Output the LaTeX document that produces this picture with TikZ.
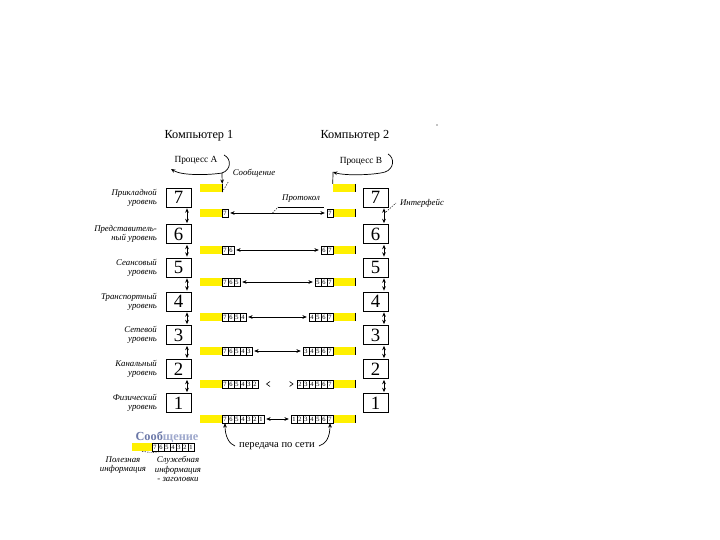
\documentclass[tikz,border=0pt]{standalone}
\usepackage{fontspec}
\setmainfont{Liberation Serif}
\usetikzlibrary{arrows.meta}

\definecolor{msgyellow}{rgb}{1,0.94,0}
\definecolor{darkblue}{rgb}{0.42,0.47,0.66}
\definecolor{lightblue}{rgb}{0.62,0.66,0.80}

\tikzset{
  levelbox/.style={draw,line width=0.6pt,minimum width=0.75cm,minimum height=0.57cm,inner sep=0pt,font=\fontsize{16}{16}\selectfont},
  hdr/.style={draw,line width=0.4pt,minimum width=0.18cm,minimum height=0.24cm,inner sep=0pt,font=\fontsize{5.5}{5.5}\selectfont},
  data/.style={fill=msgyellow,minimum width=0.66cm,minimum height=0.24cm,inner sep=0pt},
  lbl/.style={anchor=east,align=right,font=\fontsize{7.5}{7.8}\selectfont\itshape},
  note/.style={align=center,font=\fontsize{7.5}{7.8}\selectfont\itshape},
  tip/.style={-{Stealth[length=1.3mm,width=1.1mm]},line width=0.6pt},
  link/.style={{Stealth[length=1.3mm,width=1.1mm]}-{Stealth[length=1.3mm,width=1.1mm]},line width=0.6pt,shorten <=0.06cm,shorten >=0.06cm},
  leader/.style={line width=0.4pt,dash pattern=on 1.2pt off 1pt},
}

\begin{document}
\begin{tikzpicture}[x=0.03cm,y=-0.03cm]
\useasboundingbox (0,0) rectangle (720,540);

\node[font=\fontsize{10.5}{12}\selectfont] (comp1) at (199,136) {Компьютер 1};
\node[font=\fontsize{10.5}{12}\selectfont] (comp2) at (355,136) {Компьютер 2};
\fill (437,125) circle (0.5pt);

\node[font=\fontsize{8}{9}\selectfont] (procA) at (196,160) {Процесс А};
\node[font=\fontsize{8}{9}\selectfont] (procB) at (361,161) {Процесс В};

\foreach \n/\y/\txt in {7/197.5/{Прикладной\\уровень},6/234/{Представитель-\\ный уровень},
    5/267.5/{Сеансовый\\уровень},4/301.5/{Транспортный\\уровень},3/335/{Сетевой\\уровень},
    2/369/{Канальный\\уровень},1/403/{Физический\\уровень}}{
  \node[levelbox] (L\n) at (178.5,\y) {\n};
  \node[levelbox] (R\n) at (375.5,\y) {\n};
  \node[lbl] (t\n) at (161,\y) {\txt};
}

\foreach \a/\b in {7/6,6/5,5/4,4/3,3/2,2/1}{
  \draw[link,shorten <=0.03cm,shorten >=0.03cm] ([xshift=0.255cm]L\a.south) -- ([xshift=0.255cm]L\b.north);
  \draw[link,shorten <=0.03cm,shorten >=0.03cm] ([xshift=0.255cm]R\a.south) -- ([xshift=0.255cm]R\b.north);
}

\node[data] (dL0) at (211,188) {};
\node[data] (dR0) at (344,188) {};
\draw[line width=0.6pt] (dL0.north east) -- (dL0.south east);
\draw[line width=0.6pt] (dR0.north east) -- (dR0.south east);

\foreach \r/\y in {1/213,2/250,3/282,4/317,5/351,6/384,7/419}{
  \node[data] (dL\r) at (211,\y) {};
  \node[data] (dR\r) at (344,\y) {};
  \draw[line width=0.6pt] (dR\r.north east) -- (dR\r.south east);
  \foreach \k in {1,...,\r}{
    \pgfmathtruncatemacro{\lab}{8-\k}
    \node[hdr] (hL\r-\k) at (219+6*\k,\y) {\lab};
    \node[hdr] (hR\r-\k) at (336-6*\k,\y) {\lab};
  }
  \ifnum\r=6
  \else
    \draw[link] (hL\r-\r) -- (hR\r-\r);
  \fi
}
\draw[line width=0.5pt] (270,381.5) -- (266.5,384) -- (270,386.5);
\draw[line width=0.5pt] (289.5,381.5) -- (293,384) -- (289.5,386.5);

\coordinate (arcA) at (222,173);
\draw[line width=0.6pt,{Stealth[length=1.3mm,width=1.1mm]}-] (171,169) .. controls (182,176) and (210,175) .. (arcA) .. controls (231,170) and (232,159) .. (224,155);
\draw[tip] (arcA) -- (dL0.north east);

\coordinate (arcB) at (333,172);
\draw[line width=0.6pt,{Stealth[length=1.3mm,width=1.1mm]}-] (arcB) .. controls (345,176) and (375,175) .. (385,172) .. controls (394,169) and (395,158) .. (388,154);
\draw[line width=0.6pt] (arcB) -- (dR0.north west);

\node[note] (msgLbl) at (254,173) {Сообщение};
\draw[leader] (dL0.south east) -- (msgLbl.south west);

\node[note] (protLbl) at (301,199) {Протокол};
\path (hL1-1) -- (hR1-1) coordinate[pos=0.45] (protP);
\draw[leader] (protP) -- (protLbl.south west);
\draw[line width=0.4pt] (protLbl.south west) -- (protLbl.south east);

\node[note,anchor=west] (ifLbl) at (396,203) {Интерфейс};
\coordinate (ifP) at (386,212);
\draw[leader] (ifP) -- (ifLbl.west);

\node[font=\fontsize{9}{10}\selectfont] (net) at (277,446) {передача по сети};
\draw[tip] (net.west) .. controls (229,444) and (225,436) .. (hL7-1.south);
\draw[tip] (net.east) .. controls (326,444) and (330,437) .. (hR7-1.south);

\node[data,minimum width=0.6cm] (legData) at (142,447) {};
\foreach \k in {1,...,7}{
  \pgfmathtruncatemacro{\lab}{8-\k}
  \node[hdr] (legH\k) at (149+6*\k,447) {\lab};
}
\node[font=\bfseries\fontsize{10.5}{12}\selectfont] (legTitle) at (167,437) {\textcolor{darkblue}{Сооб}\textcolor{lightblue}{щение}};
\node[note] (useLbl) at (123,465) {Полезная\\информация};
\draw[leader] (legData.south) -- (useLbl.north east);
\node[note] (srvLbl) at (178,469) {Служебная\\информация\\- заголовки};
\draw[leader] (legH3.south) -- (srvLbl.north west);

\end{tikzpicture}
\end{document}
